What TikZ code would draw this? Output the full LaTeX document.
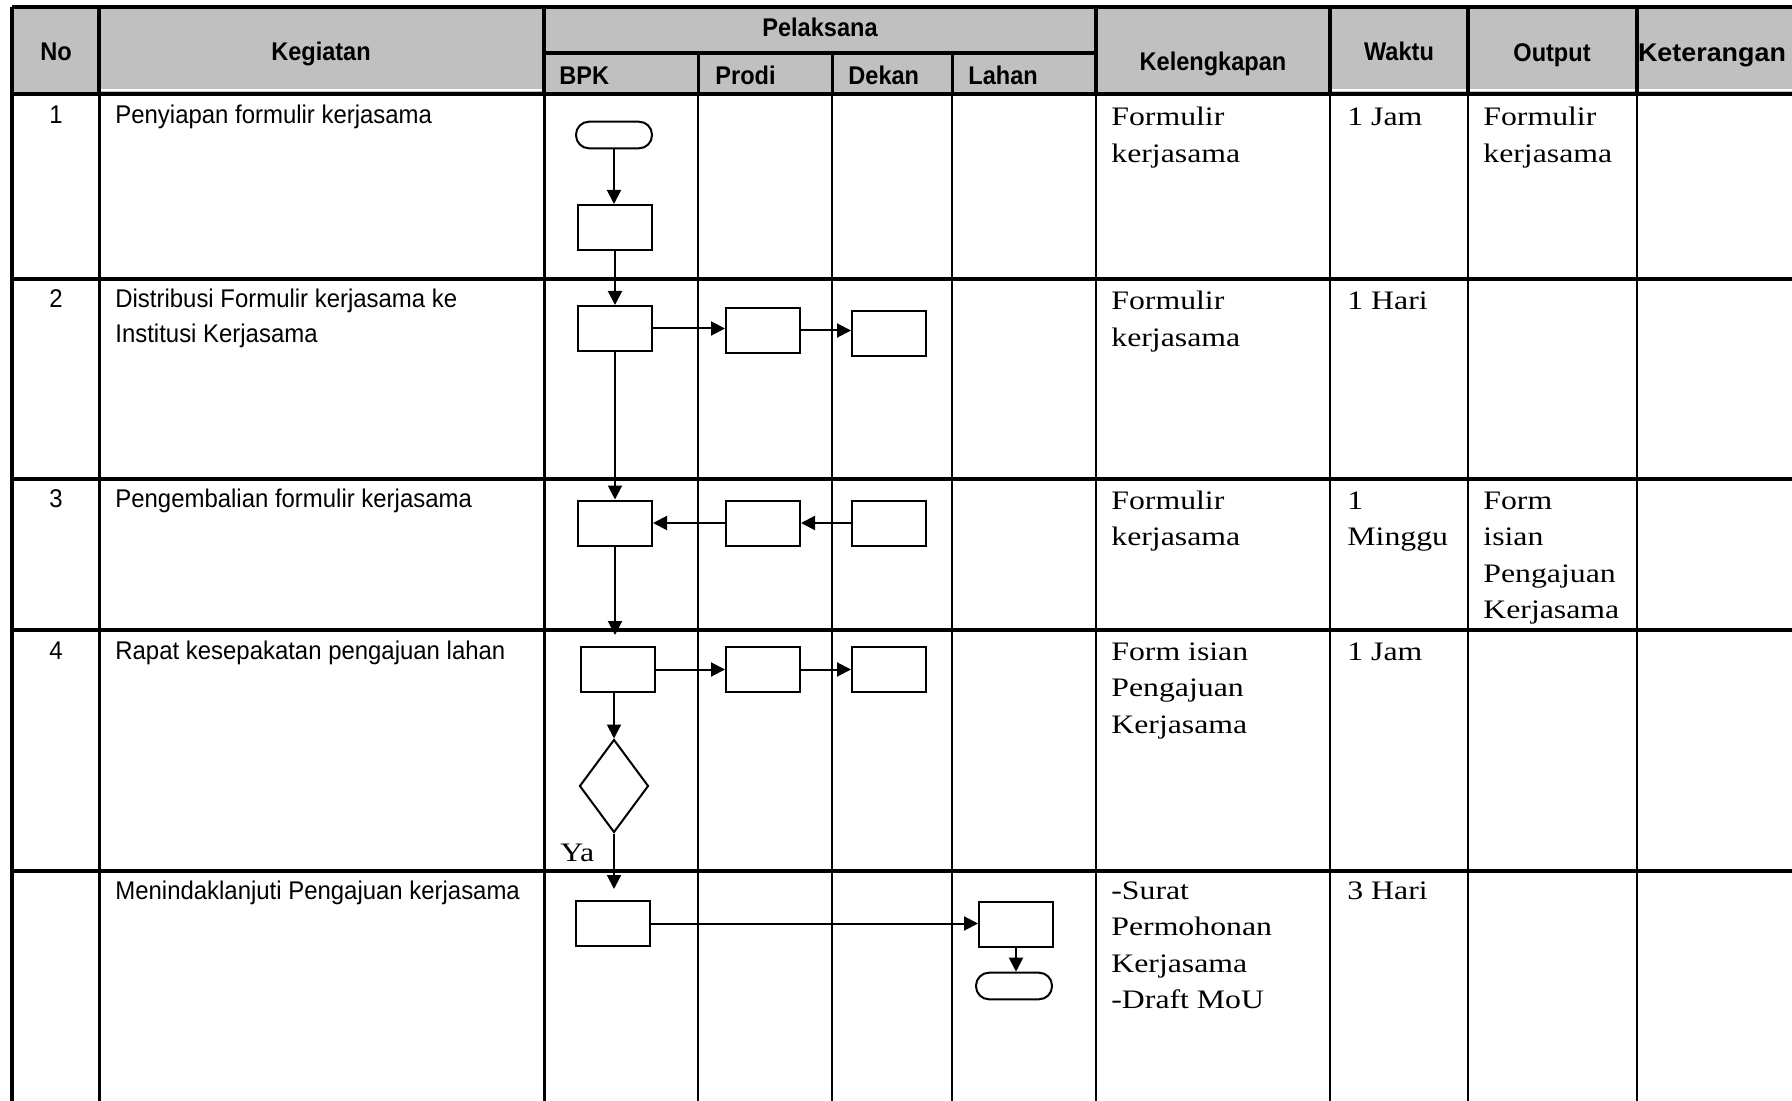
\documentclass[tikz,border=0pt]{standalone}
\usepackage{fontspec}
\newfontfamily\hsans[FakeStretch=0.92]{Liberation Sans}
\newfontfamily\hsansw[FakeStretch=1.05]{Liberation Sans}
\newfontfamily\bsans[FakeStretch=0.935]{Liberation Sans}
\newfontfamily\bserif[FakeStretch=1.19]{Liberation Serif}
\usetikzlibrary{shapes.geometric,arrows.meta}
\definecolor{hdgray}{RGB}{192,192,192}
\newcommand{\celltext}[1]{\begin{tabular}[t]{@{}l@{}}#1\end{tabular}}
\begin{document}
\begin{tikzpicture}[x=0.5pt,y=-0.5pt,
  hd/.style={font=\hsans\bfseries\fontsize{12.8pt}{15pt}\selectfont, inner sep=0pt, anchor=base},
  hdl/.style={hd, anchor=base west},
  kt/.style={font=\bsans\fontsize{12.8pt}{17.15pt}\selectfont, inner sep=0pt, anchor=base west},
  num/.style={font=\bsans\fontsize{12.8pt}{17.15pt}\selectfont, inner sep=0pt, anchor=base},
  sf/.style={font=\bserif\fontsize{13.35pt}{18.3pt}\selectfont, inner sep=0pt, anchor=base west},
  thick line/.style={line width=2pt},
  grid line/.style={line width=1.25pt},
  box/.style={draw, line width=1pt, minimum width=37pt, minimum height=22.5pt, inner sep=0pt, fill=white},
  term/.style={draw, line width=1pt, rounded corners=6.5pt, minimum width=38pt, minimum height=13.3pt, inner sep=0pt, fill=white},
  dec/.style={diamond, draw, line width=1pt, minimum width=34.5pt, minimum height=46.5pt, inner sep=0pt, fill=white},
  arr/.style={-{Triangle[length=7pt,width=7pt]}, line width=1pt}
]
\useasboundingbox (0,0) rectangle (1792,1101);
\clip (0,0) rectangle (1792,1101);

% header background
\fill[hdgray] (12,7) rectangle (1792,94);
\draw[white, line width=1pt] (99,90.5) -- (544,90.5);
\draw[white, line width=1pt] (1330,90.5) -- (1792,90.5);

% header lines
\draw[thick line] (12,7) -- (1792,7);
\draw[thick line] (12,94) -- (1792,94);
\draw[thick line] (544,53) -- (1096,53);
\foreach \x in {12,99,544,1096,1330,1468,1637}
  \draw[thick line] (\x,7) -- (\x,94);
\foreach \x in {698,832,952}
  \draw[line width=1.5pt] (\x,53) -- (\x,94);

% body lines
\draw[thick line] (12,94) -- (12,1101);
\foreach \x in {99,544}
  \draw[line width=1.5pt] (\x,94) -- (\x,1101);
\foreach \x in {698,832,952,1096,1330,1468,1637}
  \draw[grid line] (\x,94) -- (\x,1101);
\foreach \y in {279,479,630,871}
  \draw[thick line] (12,\y) -- (1792,\y);

% header texts
\node[hd] (hNo) at (56,61) {No};
\node[hd] (hKeg) at (321,61) {Kegiatan};
\node[hd] (hPel) at (820,37) {Pelaksana};
\node[hdl] (hBPK) at (559,85) {BPK};
\node[hdl] (hProdi) at (715,85) {Prodi};
\node[hdl] (hDekan) at (848,85) {Dekan};
\node[hdl] (hLahan) at (968,85) {Lahan};
\node[hd] (hKel) at (1213,71) {Kelengkapan};
\node[hd] (hWak) at (1399,61) {Waktu};
\node[hd] (hOut) at (1552,62) {Output};
\node[hd, font=\hsansw\bfseries\fontsize{12.8pt}{15pt}\selectfont] (hKet) at (1712,62) {Keterangan};

% numbers
\node[num] (n1) at (56,124) {1};
\node[num] (n2) at (56,308) {2};
\node[num] (n3) at (56,507) {3};
\node[num] (n4) at (56,659) {4};

% kegiatan
\node[kt] (k1) at (115,124) {Penyiapan formulir kerjasama};
\node[kt] (k2) at (115,308) {\celltext{Distribusi Formulir kerjasama ke\\Institusi Kerjasama}};
\node[kt] (k3) at (115,507) {Pengembalian formulir kerjasama};
\node[kt] (k4) at (115,659) {Rapat kesepakatan pengajuan lahan};
\node[kt] (k5) at (115,899) {Menindaklanjuti Pengajuan kerjasama};

% kelengkapan
\node[sf] (l1) at (1111,126) {\celltext{Formulir\\kerjasama}};
\node[sf] (l2) at (1111,310) {\celltext{Formulir\\kerjasama}};
\node[sf] (l3) at (1111,509) {\celltext{Formulir\\kerjasama}};
\node[sf] (l4) at (1111,660) {\celltext{Form isian\\Pengajuan\\Kerjasama}};
\node[sf] (l5) at (1111,899) {\celltext{-Surat\\Permohonan\\Kerjasama\\-Draft MoU}};

% waktu
\node[sf] (w1) at (1347,126) {1 Jam};
\node[sf] (w2) at (1347,310) {1 Hari};
\node[sf] (w3) at (1347,509) {\celltext{1\\Minggu}};
\node[sf] (w4) at (1347,660) {1 Jam};
\node[sf] (w5) at (1347,899) {3 Hari};

% output
\node[sf] (o1) at (1483,126) {\celltext{Formulir\\kerjasama}};
\node[sf] (o3) at (1483,509) {\celltext{Form\\isian\\Pengajuan\\Kerjasama}};

% flowchart shapes
\node[term] (t1) at (614,135) {};
\node[box] (b1) at (615,227.5) {};
\node[box] (b2) at (615,328.5) {};
\node[box] (b3) at (763,330.5) {};
\node[box] (b4) at (889,334) {};
\node[box] (b5) at (615,523) {};
\node[box] (b6) at (763,523) {};
\node[box] (b7) at (889,523) {};
\node[box] (b8) at (617.5,669.5) {};
\node[box] (b9) at (763,669.5) {};
\node[box] (b10) at (889,669.5) {};
\node[dec] (dia) at (614,786) {};
\node[box] (b11) at (613,923.5) {};
\node[box] (b12) at (1016,924.5) {};
\node[term] (t2) at (1014,986) {};
\node[sf] (ya) at (560,861) {Ya};

% connectors
\draw[arr] (t1.south) -- (t1.south |- b1.north);
\draw[arr] (b1.south) -- (b2.north);
\draw[arr] (b2.east) -- (b2.east -| b3.west);
\draw[arr] (b3.east) -- (b3.east -| b4.west);
\draw[arr] (b2.south) -- (b5.north);
\draw[arr] (b7.west) -- (b6.east);
\draw[arr] (b6.west) -- (b5.east);
\draw[arr, shorten >=5.5pt] (b5.south) -- (b5.south |- b8.north);
\draw[arr] (b8.east) -- (b9.west);
\draw[arr] (b9.east) -- (b10.west);
\draw[arr] (b8.south -| dia.north) -- (dia.north);
\draw[arr, shorten >=5.5pt] (dia.south) -- (dia.south |- b11.north);
\draw[arr] (b11.east) -- (b11.east -| b12.west);
\draw[arr] (b12.south) -- (b12.south |- t2.north);
\end{tikzpicture}
\end{document}
